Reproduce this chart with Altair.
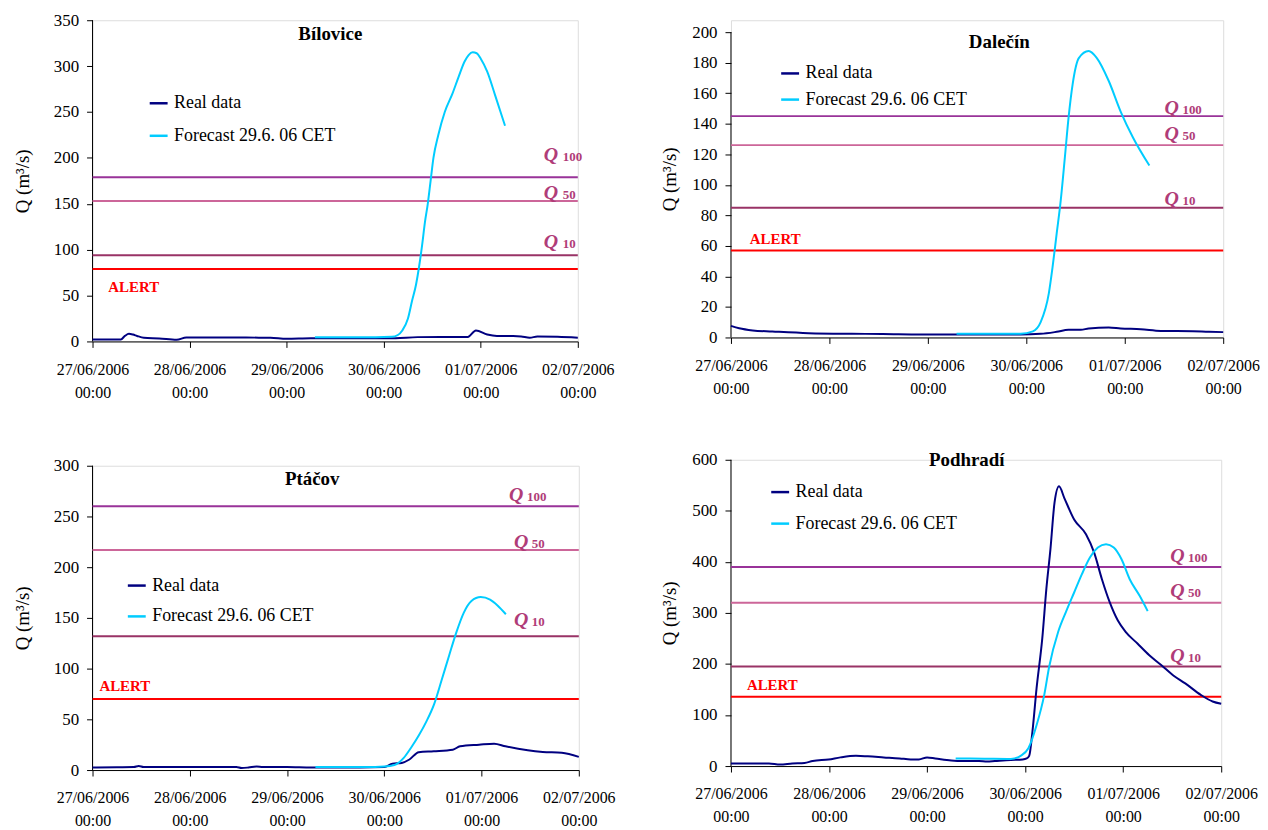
import json
import altair as alt
import pandas as pd

# ---------------- data ----------------
DAY_LABELS = ["27/06/2006", "28/06/2006", "29/06/2006", "30/06/2006", "01/07/2006", "02/07/2006"]
TIME_LABEL = "00:00"
SERIES = ["Real data", "Forecast 29.6. 06 CET"]
THRESH_NAMES = ["100", "50", "10", "ALERT"]

# hours since 27/06/2006 00:00
bil_real_h = [0, 7, 8, 9, 10, 11, 12.7, 16.5, 20.8, 23.2, 30, 38, 44, 48, 54, 62, 70.9, 75, 80.4, 86, 92.8, 94.8, 97.6, 100, 104, 106, 108.1, 110, 115, 120]
bil_real_q = [2.2, 2.2, 6, 8.3, 7.5, 6, 4, 3.3, 1.8, 4.3, 4.2, 4.2, 4, 2.9, 3.5, 3.5, 3.4, 3.6, 4.7, 4.8, 4.8, 12, 7.6, 6, 6, 5.5, 4, 5.4, 5, 4]
bil_fc_h = [55, 62, 70, 74, 75.5, 76.6, 78, 79, 80, 80.7, 81.5, 82.2, 82.9, 83.6, 84.3, 85.5, 87.1, 89, 90.5, 92, 93, 94, 95, 96, 97.6, 99.5, 102]
bil_fc_q = [4.5, 4.5, 4.5, 5, 7, 12, 25, 44, 62, 80, 105, 130, 150, 175, 200, 225, 250, 270, 288, 305, 312, 315, 314, 308, 294, 269, 235]
bil_thr = [179, 153, 94, 79]

dal_real_h = [0, 2, 5.3, 10.1, 18.9, 28.7, 37, 46.2, 58, 70.6, 75.5, 79.4, 82.3, 85.3, 87.2, 92.1, 95, 99.9, 104.8, 112.6, 116.5, 120]
dal_real_q = [7.6, 6, 4.6, 3.9, 2.8, 2.4, 2.3, 2, 2, 2, 2.4, 3.7, 5, 5, 5.9, 6.5, 5.9, 5.4, 4.3, 4.1, 3.7, 3.5]
dal_fc_h = [55, 62, 70.6, 73.6, 75.5, 77.5, 78.4, 79.4, 80.4, 81.4, 82.3, 83.3, 84.8, 87.2, 89.2, 92.1, 95, 98, 102]
dal_fc_q = [2.5, 2.5, 2.5, 4, 10, 29, 46, 68, 90, 118, 144, 166, 183, 187.6, 183, 168, 148, 131, 112.6]
dal_thr = [145, 126, 85, 57]

pta_real_h = [0, 6, 10.2, 11.4, 12.6, 20, 30, 35.5, 36.8, 38.5, 40.5, 42, 48, 54, 60, 66, 72, 74, 76.3, 78.2, 80.5, 84.2, 88.9, 90.7, 95.4, 99.1, 101.9, 107.4, 111.1, 115.8, 120]
pta_real_q = [2.5, 2.8, 3, 4, 3, 3, 3, 3, 2, 2.5, 3.5, 3, 3, 2.5, 2.5, 2.5, 2.9, 6.2, 7, 10.4, 17.6, 18.5, 20, 23.4, 25, 26, 23.4, 19.5, 17.9, 17, 13]
pta_fc_h = [55, 62, 67.5, 72, 74.5, 76.8, 78.6, 80.5, 82.4, 84.3, 86.1, 88, 89.8, 91.6, 93.5, 95.8, 98.1, 100, 102]
pta_fc_q = [3, 3, 3, 3.5, 5, 12, 22, 34, 48, 65, 88, 113, 136, 155, 166.6, 170.5, 168, 162, 153.6]
pta_thr = [260, 217, 132, 70]

pod_real_h = [0, 5, 9.3, 12, 15, 18, 20, 23.9, 26.8, 30.6, 33.5, 37.4, 41.3, 44, 46, 48, 50, 53.9, 56.8, 60.7, 62.7, 64.6, 68.5, 71.4, 72.4, 73, 73.8, 74.8, 76.2, 77.2, 78.2, 79.2, 80.3, 81.6, 84, 86.9, 88.9, 90.8, 92.7, 94.7, 96.6, 99.5, 102.4, 105.3, 108.2, 111.2, 115, 117.9, 120]
pod_real_q = [5, 5, 5, 3, 5, 6, 10, 13, 17, 20, 19, 17, 15, 13, 13, 17, 15, 11, 10, 10, 9, 10, 12, 13, 15, 20, 68, 152, 250, 347, 425, 516, 548, 525, 483, 454, 418, 366, 321, 285, 263, 240, 217, 198, 178, 162, 139.5, 126.5, 122]
pod_fc_h = [55, 62, 68.5, 70.9, 72.8, 74.8, 76.7, 77.9, 80.1, 82, 84, 85.9, 87.9, 89.8, 91.8, 93.7, 95.6, 97.6, 100, 102]
pod_fc_q = [15, 14.5, 14, 20, 35, 80, 140, 195, 263, 302, 340, 376, 409, 428, 434.6, 428, 405, 366, 334, 303.6]
pod_thr = [390, 320, 195, 136]

# ---------------- styles ----------------
FONT = "Liberation Serif"
NAVY = "#000080"
CYAN = "#00CCFF"
THR_COLORS = ["#993399", "#CC6699", "#993366", "#FF0000"]
QLABEL_COLOR = "#B03C78"

DAYS_JS = json.dumps(DAY_LABELS)
X_LABEL_EXPR = f"[{DAYS_JS}[round(datum.value/24)], '{TIME_LABEL}']"


def panel(name, real_h, real_q, fc_h, fc_q, thr, ymax, ystep, cfg):
    w, h = cfg["w"], cfg["h"]
    extra = cfg.get("extra", 0)          # empty pixels above the top tick
    htot = h + extra
    ydom = ymax * htot / h
    px = ydom / htot                     # data units per pixel

    real = pd.DataFrame({"t": real_h, "q": real_q, "s": SERIES[0]})
    fc = pd.DataFrame({"t": fc_h, "q": fc_q, "s": SERIES[1]})
    rules = pd.DataFrame({"q": thr, "c": THR_COLORS, "n": THRESH_NAMES})
    yline = pd.DataFrame({"q": [0], "q2": [ymax]})

    qlab = pd.DataFrame({
        "t": cfg["qx"],
        "q": [thr[i] + cfg["qdy"][i] * px for i in range(3)],
        "n": THRESH_NAMES[:3],
    })
    alert = pd.DataFrame({"t": [cfg["ax"]], "q": [thr[3] + cfg["ady"] * px], "n": [THRESH_NAMES[3]]})
    title = pd.DataFrame({"t": [cfg["tx"]], "q": [cfg["ty"]], "n": [name]})

    xenc = alt.X("t:Q", scale=alt.Scale(domain=[0, 120], nice=False, zero=False),
                 axis=alt.Axis(values=[0, 24, 48, 72, 96, 120], labelExpr=X_LABEL_EXPR, title=None,
                               grid=False, tickSize=6, labelPadding=14, labelFont=FONT,
                               labelFontSize=16, labelLineHeight=23, labelOverlap=False,
                               labelFlush=False, labelBound=False, labelAngle=0,
                               domainColor="#000", tickColor="#000", labelColor="#000"))
    yenc = alt.Y("q:Q", scale=alt.Scale(domain=[0, ydom], nice=False),
                 axis=alt.Axis(values=list(range(0, ymax + 1, ystep)), title="Q (m³/s)",
                               titleFont=FONT, titleFontSize=19, titleFontWeight="normal",
                               titleColor="#000", titlePadding=cfg["tpad"], grid=False,
                               domain=False, tickSize=6, labelPadding=8, labelFont=FONT,
                               labelFontSize=17, tickColor="#000", labelColor="#000"))
    cscale = alt.Scale(domain=SERIES, range=[NAVY, CYAN])
    legend = alt.Legend(title=None, orient="none", legendX=cfg["lx"], legendY=cfg["ly"],
                        symbolType="stroke", symbolSize=324, symbolStrokeWidth=2.5,
                        labelFont=FONT, labelFontSize=18, labelColor="#000", labelLimit=400,
                        rowPadding=cfg["rp"], labelOffset=5, padding=0, direction="vertical")

    axis_line = alt.Chart(yline).mark_rule(color="#000", strokeWidth=1).encode(
        x=alt.value(0), y=yenc, y2=alt.Y2("q2:Q"))
    rule_layer = alt.Chart(rules).mark_rule(strokeWidth=2).encode(
        y=yenc, stroke=alt.Stroke("c:N", scale=None))
    real_layer = alt.Chart(real).mark_line(strokeWidth=2, interpolate="monotone").encode(
        x=xenc, y=yenc, color=alt.Color("s:N", scale=cscale, legend=legend))
    fc_layer = alt.Chart(fc).mark_line(strokeWidth=2, interpolate="monotone").encode(
        x=xenc, y=yenc, color=alt.Color("s:N", scale=cscale, legend=legend))
    q_layer = alt.Chart(qlab).mark_text(font=FONT, fontSize=20, fontStyle="italic", fontWeight="bold",
                                        align="left", baseline="alphabetic", color=QLABEL_COLOR).encode(
        x=xenc, y=yenc, text=alt.value("Q"))
    n_layer = alt.Chart(qlab).mark_text(font=FONT, fontSize=13, fontWeight="bold", dx=cfg["ndx"],
                                        align="left", baseline="alphabetic", color=QLABEL_COLOR).encode(
        x=xenc, y=yenc, text="n:N")
    a_layer = alt.Chart(alert).mark_text(font=FONT, fontSize=15, fontWeight="bold",
                                         align="left", baseline="middle", color="#FF0000").encode(
        x=xenc, y=yenc, text="n:N")
    t_layer = alt.Chart(title).mark_text(font=FONT, fontSize=19, fontWeight="bold",
                                         align="center", baseline="middle", color="#000").encode(
        x=xenc, y=yenc, text="n:N")

    return alt.layer(axis_line, rule_layer, real_layer, fc_layer, q_layer, n_layer, a_layer,
                     t_layer).properties(width=w, height=htot)


bil = panel("Bílovice", bil_real_h, bil_real_q, bil_fc_h, bil_fc_q, bil_thr, 350, 50,
            dict(w=488, h=323, tpad=21, lx=56, ly=73, rp=12.7, tx=58.8, ty=335,
                 qx=[111.6, 111.6, 111.6], qdy=[16, 2, 7.7], ndx=19, ax=3.9, ady=-18))
dal = panel("Dalečín", dal_real_h, dal_real_q, dal_fc_h, dal_fc_q, dal_thr, 200, 20,
            dict(w=495, h=307, extra=12, tpad=12, lx=49, ly=43, rp=6.3, tx=65.4, ty=193.7,
                 qx=[105.7, 105.7, 105.7], qdy=[2.5, 4.7, 2.7], ndx=18, ax=4.6, ady=11.7))
pta = panel("Ptáčov", pta_real_h, pta_real_q, pta_fc_h, pta_fc_q, pta_thr, 300, 50,
            dict(w=489, h=306, tpad=21, lx=34, ly=110, rp=11, tx=54.2, ty=287,
                 qx=[102.8, 104, 104], qdy=[5.3, 1.7, 10.7], ndx=18, ax=1.7, ady=12.7))
pod = panel("Podhradí", pod_real_h, pod_real_q, pod_fc_h, pod_fc_q, pod_thr, 600, 100,
            dict(w=493, h=308, tpad=12, lx=39, ly=22, rp=11.7, tx=57.7, ty=598.6,
                 qx=[107.5, 107.5, 107.5], qdy=[5, 5.3, 4.7], ndx=18, ax=3.9, ady=11.7))

left = alt.vconcat(bil, pta, spacing=55).resolve_scale(color="independent").resolve_legend(color="independent")
right = alt.vconcat(dal, pod, spacing=53).resolve_scale(color="independent").resolve_legend(color="independent")

chart = alt.hconcat(left, right, spacing=45).resolve_scale(color="independent").resolve_legend(
    color="independent").properties(
    padding={"left": 5, "top": 0, "right": 0, "bottom": 0}
).configure_view(stroke=None).configure(background="white")

chart.save("out.html", embed_options={"renderer": "svg", "actions": False})
